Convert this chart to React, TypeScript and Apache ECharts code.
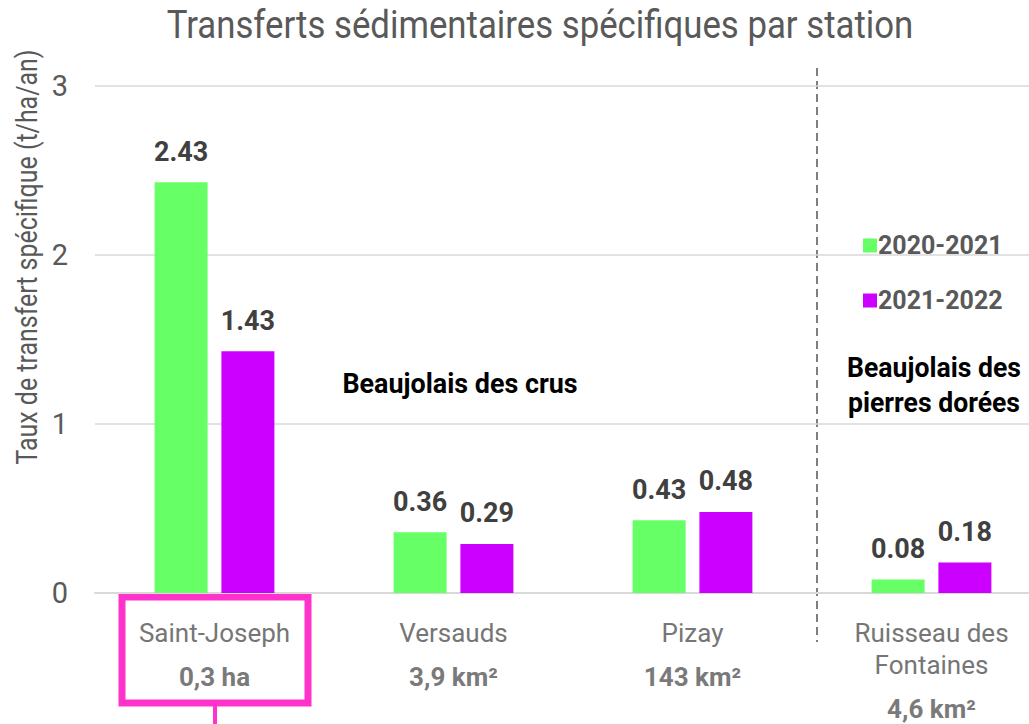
import React, { useEffect, useRef } from "react";
import * as echarts from "echarts";

const stations = ["Saint-Joseph", "Versauds", "Pizay", "Ruisseau des\nFontaines"];
const areas = ["0,3 ha", "3,9 km²", "143 km²", "4,6 km²"];
const series2021 = [2.43, 0.36, 0.43, 0.08];
const series2022 = [1.43, 0.29, 0.48, 0.18];
const seriesNames = ["2020-2021", "2021-2022"];
const yTicks = { min: 0, max: 3, interval: 1 };

const FONT = "'Liberation Sans Narrow', 'Arial Narrow', 'Roboto', sans-serif";

export default function App() {
  const ref = useRef<HTMLDivElement>(null);
  useEffect(() => {
    document.body.style.margin = "0";
    const chart = echarts.init(ref.current!, undefined, { renderer: "svg" });
    const label = {
      show: true,
      position: "top",
      distance: 17,
      fontFamily: FONT,
      fontSize: 27,
      fontWeight: "bold",
      color: "#404040",
      formatter: (p: any) => Number(p.value).toFixed(2),
    };
    chart.setOption({
      animation: false,
      textStyle: { fontFamily: FONT },
      grid: { left: 95, top: 86, width: 956, height: 507 },
      legend: {
        orient: "vertical",
        left: 858,
        top: 228,
        itemWidth: 14,
        itemHeight: 14,
        itemGap: 30,
        icon: "rect",
        textStyle: { fontFamily: FONT, fontSize: 25, fontWeight: "bold", color: "#595959", padding: [0, 0, 0, -4] },
        data: seriesNames,
      },
      xAxis: {
        type: "category",
        data: stations,
        axisLine: { lineStyle: { color: "#d9d9d9", width: 2 } },
        axisTick: { show: false },
        axisLabel: {
          margin: 24,
          interval: 0,
          formatter: (v: string, i: number) =>
            v.split("\n").map((s) => `{n|${s}}`).join("\n") + `\n{a|${areas[i]}}`,
          rich: {
            n: { fontFamily: FONT, fontSize: 26, color: "#767676", lineHeight: 32 },
            a: { fontFamily: FONT, fontSize: 26, fontWeight: "bold", color: "#7a7a7a", lineHeight: 56 },
          },
        },
      },
      yAxis: {
        type: "value",
        min: yTicks.min,
        max: yTicks.max,
        interval: yTicks.interval,
        axisLine: { show: false },
        axisTick: { show: false },
        axisLabel: { margin: 27, fontFamily: FONT, fontSize: 29, color: "#595959" },
        splitLine: { lineStyle: { color: "#d9d9d9", width: 1.5 } },
      },
      series: [
        {
          name: seriesNames[0],
          type: "bar",
          data: series2021,
          barWidth: 53,
          barGap: "26%",
          itemStyle: { color: "#66FF66" },
          label,
        },
        {
          name: seriesNames[1],
          type: "bar",
          data: series2022,
          barWidth: 53,
          barGap: "26%",
          itemStyle: { color: "#CC00FF" },
          label,
        },
      ],
      graphic: [
        {
          type: "text",
          x: 540,
          y: 25,
          scaleX: 0.915,
          style: {
            text: "Transferts sédimentaires spécifiques par station",
            fontFamily: FONT,
            fontSize: 38,
            fill: "#595959",
            textAlign: "center",
            textVerticalAlign: "middle",
          },
        },
        {
          type: "text",
          x: 27,
          y: 257,
          rotation: Math.PI / 2,
          scaleX: 0.86,
          style: {
            text: "Taux de transfert spécifique (t/ha/an)",
            fontFamily: FONT,
            fontSize: 29,
            fill: "#595959",
            textAlign: "center",
            textVerticalAlign: "middle",
          },
        },
        {
          type: "line",
          shape: { x1: 817, y1: 68, x2: 817, y2: 642 },
          style: { stroke: "#7f7f7f", lineWidth: 2, lineDash: [8, 5] },
        },
        {
          type: "text",
          x: 460,
          y: 384,
          scaleX: 0.96,
          style: {
            text: "Beaujolais des crus",
            fontFamily: FONT,
            fontSize: 28,
            fontWeight: "bold",
            fill: "#000000",
            textAlign: "center",
            textVerticalAlign: "middle",
          },
        },
        {
          type: "text",
          x: 934,
          y: 385,
          scaleX: 0.95,
          style: {
            text: "Beaujolais des\npierres dorées",
            fontFamily: FONT,
            fontSize: 28,
            fontWeight: "bold",
            fill: "#000000",
            lineHeight: 35,
            textAlign: "center",
            textVerticalAlign: "middle",
          },
        },
        {
          type: "rect",
          shape: { x: 122, y: 597, width: 186, height: 106 },
          style: { stroke: "#FF33CC", lineWidth: 7, fill: "none" },
        },
        {
          type: "line",
          shape: { x1: 215, y1: 706, x2: 215, y2: 724 },
          style: { stroke: "#FF33CC", lineWidth: 4 },
        },
      ],
    });
    return () => chart.dispose();
  }, []);
  return (
    <div style={{ width: 1029, height: 724, overflow: "hidden", position: "relative" }}>
      <div ref={ref} style={{ width: 1060, height: 724 }} />
    </div>
  );
}
